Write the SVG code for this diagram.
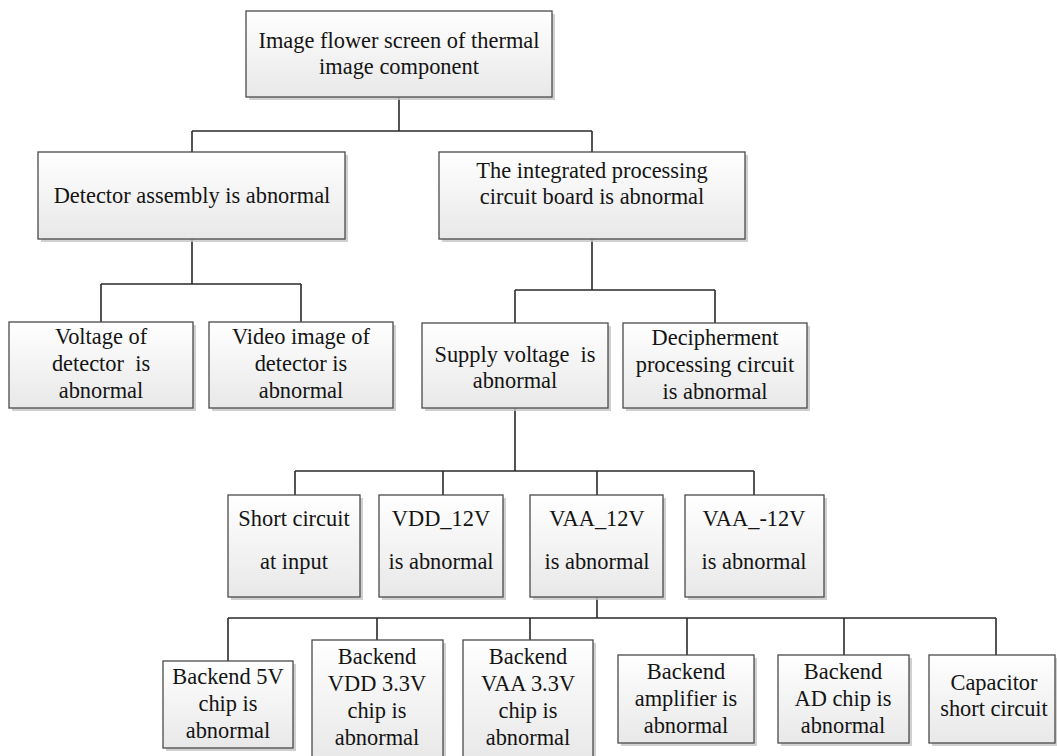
<svg xmlns="http://www.w3.org/2000/svg" width="1057" height="756" viewBox="0 0 1057 756">
<defs>
<linearGradient id="g" x1="0" y1="0" x2="0" y2="1">
<stop offset="0" stop-color="#ffffff"/>
<stop offset="1" stop-color="#e8e8e8"/>
</linearGradient>
<style>
.sh{fill:#c4c4c4;opacity:0.8}
.bx{fill:url(#g);stroke:#4a4a4a;stroke-width:1.3}
.t{font-size:22.4px;fill:#141414;text-anchor:middle;white-space:pre}
.c{fill:none;stroke:#2a2a2a;stroke-width:1.6}
</style>
</defs>
<rect width="1057" height="756" fill="#ffffff"/>
<g id="connectors">
<path class="c" d="M399 97V131M192 131H592M192 131V152M592 131V152"/>
<path class="c" d="M192 239V284M101 284H301M101 284V322M301 284V322"/>
<path class="c" d="M592 239V290M515 290H715M515 290V323M715 290V323"/>
<path class="c" d="M515 408V471M295 471H754M295 471V495M443 471V495M597 471V495M754 471V495"/>
<path class="c" d="M597 597V618M228 618H996M228 618V661M377 618V640M530 618V640M687 618V655M844 618V655M996 618V655"/>
</g>
<g font-family="Liberation Serif, Times New Roman, Tinos, DejaVu Serif, serif">
<g id="n0"><rect class="sh" x="249" y="14" width="306" height="86"/><rect class="bx" x="246" y="11" width="306" height="86"/>
<text class="t" x="399" y="48">Image flower screen of thermal</text><text class="t" x="399" y="74">image component</text></g>
<g id="n1"><rect class="sh" x="41" y="155" width="307" height="87"/><rect class="bx" x="38" y="152" width="307" height="87"/>
<text class="t" x="192" y="203">Detector assembly is abnormal</text></g>
<g id="n2"><rect class="sh" x="442" y="155" width="306" height="87"/><rect class="bx" x="439" y="152" width="306" height="87"/>
<text class="t" x="592" y="178">The integrated processing</text><text class="t" x="592" y="204">circuit board is abnormal</text></g>
<g id="n3"><rect class="sh" x="12" y="325" width="184" height="86"/><rect class="bx" x="9" y="322" width="184" height="86"/>
<text class="t" x="101" y="344">Voltage of</text><text class="t" x="101" y="371">detector  is</text><text class="t" x="101" y="398">abnormal</text></g>
<g id="n4"><rect class="sh" x="212" y="325" width="184" height="86"/><rect class="bx" x="209" y="322" width="184" height="86"/>
<text class="t" x="301" y="344">Video image of</text><text class="t" x="301" y="371">detector is</text><text class="t" x="301" y="398">abnormal</text></g>
<g id="n5"><rect class="sh" x="425" y="326" width="186" height="85"/><rect class="bx" x="422" y="323" width="186" height="85"/>
<text class="t" x="515" y="362">Supply voltage  is</text><text class="t" x="515" y="388">abnormal</text></g>
<g id="n6"><rect class="sh" x="626" y="326" width="184" height="85"/><rect class="bx" x="623" y="323" width="184" height="85"/>
<text class="t" x="715" y="345">Decipherment</text><text class="t" x="715" y="372">processing circuit</text><text class="t" x="715" y="399">is abnormal</text></g>
<g id="n7"><rect class="sh" x="231" y="498" width="132" height="102"/><rect class="bx" x="228" y="495" width="132" height="102"/>
<text class="t" x="294" y="526">Short circuit</text><text class="t" x="294" y="569">at input</text></g>
<g id="n8"><rect class="sh" x="382" y="498" width="124" height="102"/><rect class="bx" x="379" y="495" width="124" height="102"/>
<text class="t" x="441" y="526">VDD_12V</text><text class="t" x="441" y="569">is abnormal</text></g>
<g id="n9"><rect class="sh" x="533" y="498" width="133" height="102"/><rect class="bx" x="530" y="495" width="133" height="102"/>
<text class="t" x="597" y="526">VAA_12V</text><text class="t" x="597" y="569">is abnormal</text></g>
<g id="n10"><rect class="sh" x="688" y="498" width="139" height="102"/><rect class="bx" x="685" y="495" width="139" height="102"/>
<text class="t" x="754" y="526">VAA_-12V</text><text class="t" x="754" y="569">is abnormal</text></g>
<g id="n11"><rect class="sh" x="166" y="664" width="130" height="87"/><rect class="bx" x="163" y="661" width="130" height="87"/>
<text class="t" x="228" y="684">Backend 5V</text><text class="t" x="228" y="711">chip is</text><text class="t" x="228" y="738">abnormal</text></g>
<g id="n12"><rect class="sh" x="315" y="643" width="131" height="120"/><rect class="bx" x="312" y="640" width="131" height="120"/>
<text class="t" x="377" y="664">Backend</text><text class="t" x="377" y="691">VDD 3.3V</text><text class="t" x="377" y="718">chip is</text><text class="t" x="377" y="745">abnormal</text></g>
<g id="n13"><rect class="sh" x="466" y="643" width="130" height="120"/><rect class="bx" x="463" y="640" width="130" height="120"/>
<text class="t" x="528" y="664">Backend</text><text class="t" x="528" y="691">VAA 3.3V</text><text class="t" x="528" y="718">chip is</text><text class="t" x="528" y="745">abnormal</text></g>
<g id="n14"><rect class="sh" x="621" y="658" width="136" height="88"/><rect class="bx" x="618" y="655" width="136" height="88"/>
<text class="t" x="686" y="679">Backend</text><text class="t" x="686" y="706">amplifier is</text><text class="t" x="686" y="733">abnormal</text></g>
<g id="n15"><rect class="sh" x="781" y="658" width="131" height="88"/><rect class="bx" x="778" y="655" width="131" height="88"/>
<text class="t" x="843" y="679">Backend</text><text class="t" x="843" y="706">AD chip is</text><text class="t" x="843" y="733">abnormal</text></g>
<g id="n16"><rect class="sh" x="932" y="658" width="126" height="88"/><rect class="bx" x="929" y="655" width="126" height="88"/>
<text class="t" x="994" y="690">Capacitor</text><text class="t" x="994" y="716">short circuit</text></g>
</g>
</svg>
